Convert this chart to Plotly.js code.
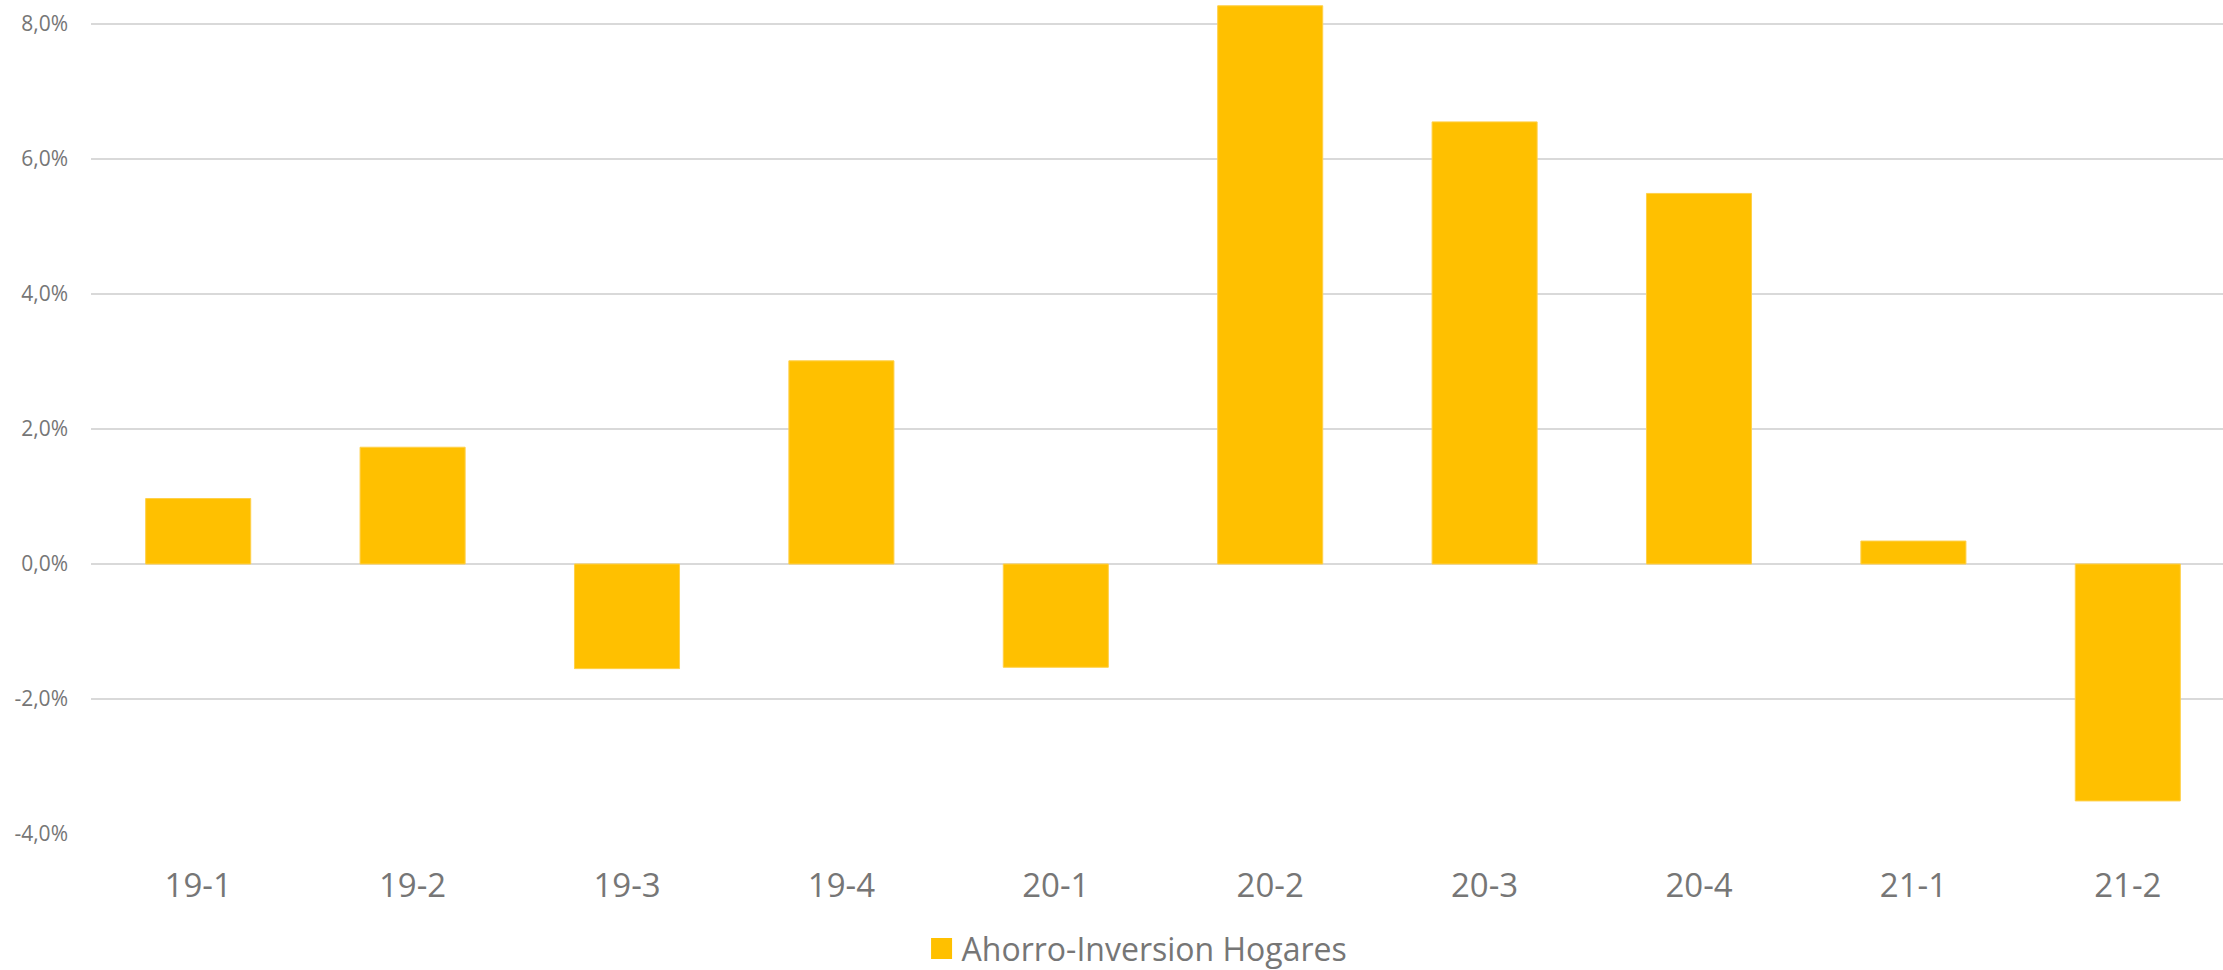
<!DOCTYPE html>
<html>
<head>
<meta charset="utf-8">
<script src="https://cdn.plot.ly/plotly-3.0.1.min.js"></script>
<style>html,body{margin:0;padding:0;background:#fff;}#chart{width:2223px;height:970px;}</style>
</head>
<body>
<div id="chart"></div>
<script>
const categories = ["19-1","19-2","19-3","19-4","20-1","20-2","20-3","20-4","21-1","21-2"];
const values = [0.97, 1.73, -1.55, 3.01, -1.53, 8.27, 6.55, 5.49, 0.34, -3.51];
const seriesName = "Ahorro-Inversion Hogares";
const yTickVals = [-4, -2, 0, 2, 4, 6, 8];
const yTickText = ["-4,0%", "-2,0%", "0,0%", "2,0%", "4,0%", "6,0%", "8,0%"];

const textColor = "#767676";
const font = "'Open Sans', 'Noto Sans', sans-serif";

const trace = {
  type: "bar",
  x: categories,
  y: values,
  name: seriesName,
  width: 0.49,
  marker: {color: "#FFC000", line: {color: "#FFD04A", width: 1}},
  showlegend: true,
  hoverinfo: "x+y"
};

const layout = {
  width: 2223,
  height: 970,
  margin: {l: 91, r: 0, t: 0, b: 136},
  paper_bgcolor: "#ffffff",
  plot_bgcolor: "#ffffff",
  font: {family: font, color: textColor},
  bargap: 0.51,
  xaxis: {
    type: "category",
    range: [-0.5, 9.444],
    showgrid: false,
    zeroline: false,
    showline: false,
    ticks: "",
    ticklabelstandoff: 29,
    tickfont: {family: font, size: 33, color: textColor}
  },
  yaxis: {
    range: [-4, 8.3556],
    tickvals: yTickVals,
    ticktext: yTickText,
    showgrid: true,
    gridcolor: "#D9D9D9",
    gridwidth: 2,
    zeroline: true,
    zerolinecolor: "#D9D9D9",
    zerolinewidth: 2,
    showline: false,
    ticks: "",
    ticklabelstandoff: 22,
    tickfont: {family: font, size: 21, color: textColor}
  },
  showlegend: true,
  legend: {
    orientation: "h",
    xref: "container",
    yref: "container",
    x: 0.5115,
    xanchor: "center",
    y: 0.022,
    yanchor: "middle",
    font: {family: font, size: 32, color: textColor},
    itemwidth: 30
  }
};

Plotly.newPlot("chart", [trace], layout, {displayModeBar: false, staticPlot: true}).then(function(){
  document.querySelectorAll('.legendpoints path').forEach(function(p){
    p.setAttribute('d', 'M10.5,10.5H-10.5V-10.5H10.5Z');
    p.style.strokeWidth = '0';
  });
});
</script>
</body>
</html>
